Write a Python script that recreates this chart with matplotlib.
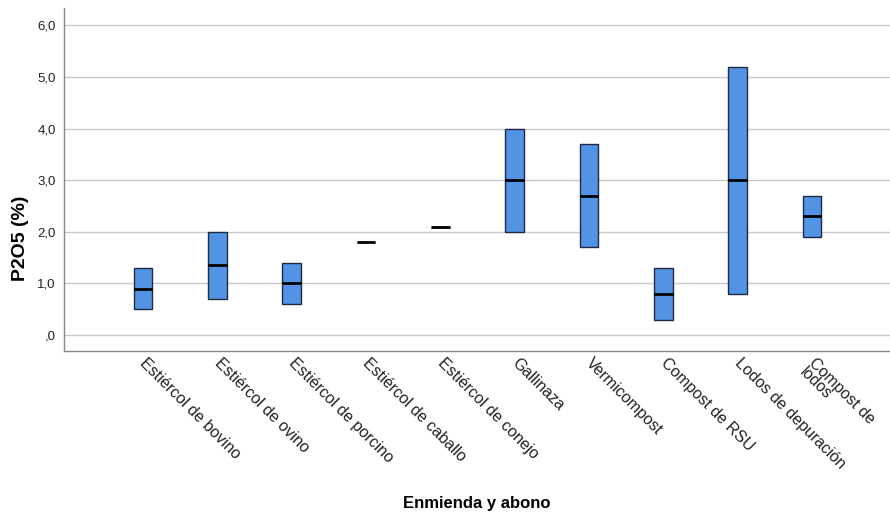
import numpy as np
import matplotlib
matplotlib.use("Agg")
import matplotlib.pyplot as plt
import matplotlib.transforms as mtrans

plt.rcParams["font.family"] = ["Liberation Sans", "DejaVu Sans"]

categorias = [
    "Estiércol de bovino",
    "Estiércol de ovino",
    "Estiércol de porcino",
    "Estiércol de caballo",
    "Estiércol de conejo",
    "Gallinaza",
    "Vermicompost",
    "Compost de RSU",
    "Lodos de depuración",
    "Compost de\nlodos",
]
minimo = [0.5, 0.7, 0.6, 1.8, 2.1, 2.0, 1.7, 0.3, 0.8, 1.9]
maximo = [1.3, 2.0, 1.4, 1.8, 2.1, 4.0, 3.7, 1.3, 5.2, 2.7]
mediana = [0.9, 1.35, 1.0, 1.8, 2.1, 3.0, 2.7, 0.8, 3.0, 2.3]
yticks = [0, 1, 2, 3, 4, 5, 6]
ytick_labels = [",0", "1,0", "2,0", "3,0", "4,0", "5,0", "6,0"]

fig = plt.figure(figsize=(8.9, 5.14), dpi=100)
ax = fig.add_axes([0.072, 0.317, 0.928, 0.667])

x = np.arange(len(categorias))
w = 0.25
lo = np.array(minimo)
hi = np.array(maximo)
ax.bar(x, hi - lo, bottom=lo, width=w, color="#5293e3",
       edgecolor="#1f2a44", linewidth=1.0, zorder=3)
ax.hlines(mediana, x - w / 2, x + w / 2, color="black", linewidth=2, zorder=4)

ax.set_xlim(-1.06, 10.05)
ax.set_ylim(-0.31, 6.33)
ax.set_yticks(yticks)
ax.set_yticklabels(ytick_labels, fontsize=9.5, color="#222222")
ax.yaxis.grid(True, color="#c8c8c8", linewidth=1, zorder=0)
ax.set_axisbelow(True)

ax.set_xticks(x)
ax.set_xticklabels(categorias, rotation=-45, ha="left", va="top",
                   rotation_mode="anchor", fontsize=11.5, color="#222222",
                   linespacing=0.85)
ax.tick_params(axis="both", length=0)
ax.tick_params(axis="x", pad=3)
ax.tick_params(axis="y", pad=6)
shift = mtrans.ScaledTranslation(5 / 100, 0, fig.dpi_scale_trans)
for lab in ax.get_xticklabels():
    lab.set_transform(lab.get_transform() + shift)

for s in ["top", "right"]:
    ax.spines[s].set_visible(False)
for s in ["left", "bottom"]:
    ax.spines[s].set_color("#888888")
    ax.spines[s].set_linewidth(1)

ax.set_ylabel("P2O5 (%)", fontsize=14, fontweight="bold",
              va="center", ha="center")
ax.yaxis.set_label_coords(-0.053, 0.33)
fig.text(0.536, 0.006, "Enmienda y abono", fontsize=12, fontweight="bold",
         ha="center", va="bottom")

fig.savefig("out.png", dpi=100)
